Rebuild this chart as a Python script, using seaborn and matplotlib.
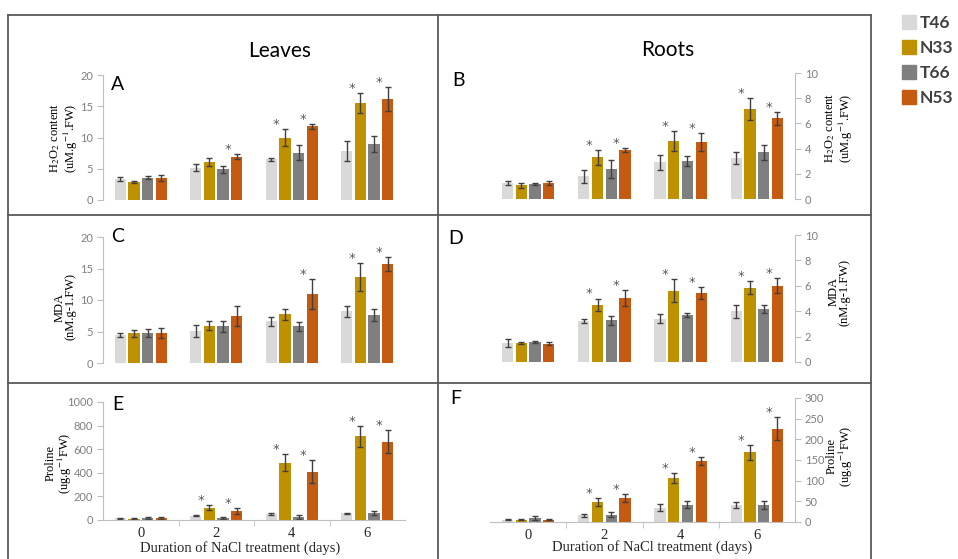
import numpy as np
import pandas as pd
import matplotlib
matplotlib.use('Agg')
import matplotlib.pyplot as plt
import seaborn as sns
from matplotlib.lines import Line2D

days = ['0', '2', '4', '6']
lines = ['T46', 'N33', 'T66', 'N53']
colors = ['#d9d9d9', '#bf9000', '#7f7f7f', '#c55a11']

# rows = line (T46, N33, T66, N53), columns = day (0, 2, 4, 6)
h2o2_leaf = [[3.4, 5.2, 6.5, 7.9], [2.9, 6.1, 10.0, 15.5], [3.6, 4.9, 7.6, 9.0], [3.5, 6.9, 11.8, 16.2]]
h2o2_leaf_err = [[0.3, 0.5, 0.2, 1.6], [0.2, 0.6, 1.4, 1.6], [0.3, 0.5, 1.2, 1.3], [0.5, 0.4, 0.4, 1.9]]
h2o2_root = [[1.3, 1.8, 2.9, 3.25], [1.1, 3.3, 4.6, 7.15], [1.2, 2.4, 3.0, 3.7], [1.3, 3.9, 4.5, 6.4]]
h2o2_root_err = [[0.15, 0.5, 0.6, 0.5], [0.2, 0.6, 0.8, 0.9], [0.05, 0.7, 0.4, 0.6], [0.15, 0.15, 0.7, 0.5]]
mda_leaf = [[4.4, 5.1, 6.6, 8.2], [4.7, 5.9, 7.7, 13.7], [4.8, 5.8, 5.8, 7.6], [4.7, 7.4, 10.9, 15.7]]
mda_leaf_err = [[0.3, 0.9, 0.7, 0.9], [0.5, 0.7, 0.9, 2.2], [0.6, 0.8, 0.7, 0.9], [0.8, 1.6, 2.4, 1.1]]
mda_root = [[1.5, 3.2, 3.4, 4.0], [1.5, 4.5, 5.6, 5.85], [1.57, 3.3, 3.7, 4.15], [1.45, 5.05, 5.45, 6.0]]
mda_root_err = [[0.3, 0.15, 0.35, 0.5], [0.05, 0.5, 0.9, 0.5], [0.05, 0.35, 0.15, 0.3], [0.15, 0.65, 0.45, 0.6]]
pro_leaf = [[16, 38, 48, 57], [10, 105, 487, 710], [17, 14, 27, 60], [15, 78, 410, 665]]
pro_leaf_err = [[5, 7, 8, 5], [5, 18, 70, 90], [8, 8, 15, 20], [7, 25, 95, 95]]
pro_root = [[6, 16, 35, 41], [6, 48, 107, 169], [10, 18, 42, 42], [6, 58, 148, 226]]
pro_root_err = [[1, 4, 8, 8], [2, 9, 12, 18], [5, 6, 9, 10], [2, 9, 9, 27]]

# significance stars: (line index, day index)
stars_a = [(3, 1), (1, 2), (3, 2), (1, 3), (3, 3)]
stars_c = [(3, 2), (1, 3), (3, 3)]
stars_all = [(1, 1), (3, 1), (1, 2), (3, 2), (1, 3), (3, 3)]

W, H = 958, 559
plt.rcParams['font.family'] = ['Lato', 'DejaVu Sans']
plt.rcParams['mathtext.fontset'] = 'stix'
fig = plt.figure(figsize=(W / 100, H / 100), dpi=100)


def px_axes(x0, x1, ytop, ybot):
    return fig.add_axes([x0 / W, 1 - ybot / H, (x1 - x0) / W, (ybot - ytop) / H])


def to_df(vals):
    rows = []
    for i, ln in enumerate(lines):
        for j, d in enumerate(days):
            rows.append({'day': d, 'line': ln, 'value': vals[i][j]})
    return pd.DataFrame(rows)


def panel(box, vals, errs, stars, ymax, step, right=False, xlab=False):
    ax = px_axes(*box)
    sns.barplot(data=to_df(vals), x='day', y='value', hue='line', order=days,
                hue_order=lines, palette=colors, saturation=1, width=0.72, gap=0.18,
                errorbar=None, legend=False, ax=ax)
    bars = [list(c) for c in ax.containers]
    for i, cont in enumerate(bars):
        for j, bar in enumerate(cont):
            x = bar.get_x() + bar.get_width() / 2
            ax.errorbar(x, bar.get_height(), yerr=errs[i][j], color='#404040',
                        lw=1, capsize=2.5, capthick=1)
    for i, j in stars:
        bar = bars[i][j]
        x = bar.get_x() + bar.get_width() / 2
        ax.annotate('*', (x, vals[i][j] + errs[i][j]), xytext=(-9, -2),
                    textcoords='offset pixels', ha='center', va='bottom',
                    fontsize=9.5, color='#595959', family='DejaVu Sans')
    ax.set_ylim(0, ymax)
    ax.set_xlim(-0.5, 3.5)
    ax.set_yticks(np.arange(0, ymax + step / 2, step))
    ax.set_xlabel('')
    ax.set_ylabel('')
    for s in ['top', 'right', 'left', 'bottom']:
        ax.spines[s].set_visible(False)
    side = 'right' if right else 'left'
    ax.spines[side].set_visible(True)
    ax.spines[side].set_color('#bfbfbf')
    if right:
        ax.yaxis.tick_right()
    ax.tick_params(axis='y', colors='#bfbfbf', labelcolor='#7f7f7f', labelsize=8, length=4, pad=3)
    if xlab:
        ax.spines['bottom'].set_visible(True)
        ax.spines['bottom'].set_color('#bfbfbf')
        ax.set_xticks([0, 1, 2, 3])
        ax.set_xticklabels(days, family='Liberation Serif', fontsize=10.5, color='#262626')
        ax.set_xticks([0.5, 1.5, 2.5], minor=True)
        ax.tick_params(axis='x', which='major', length=0, pad=5)
        ax.tick_params(axis='x', which='minor', length=4, colors='#bfbfbf')
    else:
        ax.set_xticks([])
    ax.patch.set_alpha(0)
    return ax


axA = panel((103, 405, 75, 200), h2o2_leaf, h2o2_leaf_err, stars_a, 20, 5)
axB = panel((490, 795, 73, 199), h2o2_root, h2o2_root_err, stars_all, 10, 2, right=True)
axC = panel((103, 405, 237, 363), mda_leaf, mda_leaf_err, stars_c, 20, 5)
axD = panel((490, 795, 235, 362), mda_root, mda_root_err, stars_all, 10, 2, right=True)
axE = panel((103, 405, 402, 520), pro_leaf, pro_leaf_err, stars_all, 1000, 200, xlab=True)
axF = panel((490, 795, 398, 522), pro_root, pro_root_err, stars_all, 300, 50, right=True, xlab=True)


def ftext(x, y, s, **kw):
    fig.text(x / W, 1 - y / H, s, **kw)


# panel letters and titles
for lt, x, y in [('A', 118, 84), ('B', 458, 81), ('C', 118, 236), ('D', 456, 238), ('E', 118, 405), ('F', 456, 398)]:
    ftext(x, y, lt, fontsize=14, ha='center', va='center', color='black')
ftext(280, 51, 'Leaves', fontsize=15, ha='center', va='center')
ftext(668, 50, 'Roots', fontsize=15, ha='center', va='center')

# y labels
serif = dict(family='Liberation Serif', fontsize=9, rotation=90, ha='center',
             va='center', multialignment='center', color='black', linespacing=0.95)
ylab_h2o2 = 'H$_2$O$_2$ content\n(uM.g$^{-1}$.FW)'
ylab_mda = 'MDA\n(nM.g-1.FW)'
ylab_pro = 'Proline\n(ug.g$^{-1}$FW)'
ftext(64, 138, ylab_h2o2, **serif)
ftext(839, 128, ylab_h2o2, **serif)
ftext(65, 307, ylab_mda, **serif)
ftext(839, 292, ylab_mda, **serif)
ftext(59, 463, ylab_pro, **serif)
ftext(840, 456, ylab_pro, **serif)

# x labels
xl = dict(family='Liberation Serif', fontsize=10.5, ha='center', va='center', color='#262626')
ftext(240, 548, 'Duration of NaCl treatment (days)', **xl)
ftext(652, 547, 'Duration of NaCl treatment (days)', **xl)

# frame lines
frame = '#595959'
for (x0, y0, x1, y1) in [(8, 15, 871, 15), (8, 15, 8, 559), (871, 15, 871, 559),
                         (438, 15, 438, 559), (8, 215, 871, 215), (8, 383, 871, 383)]:
    fig.add_artist(Line2D([x0 / W, x1 / W], [1 - y0 / H, 1 - y1 / H], color=frame, lw=1.3))

# legend
handles = [plt.Rectangle((0, 0), 1, 1, color=c) for c in colors]
leg = fig.legend(handles, lines, loc='upper left', bbox_to_anchor=(902 / W, 1 - 15 / H),
                 frameon=False, fontsize=12.5, handlelength=0.8, handleheight=0.8,
                 handletextpad=0.2, labelspacing=0.52, borderpad=0, borderaxespad=0)
for t in leg.get_texts():
    t.set_color('#404040')
    t.set_fontweight('bold')

fig.savefig('out.png', dpi=100)
